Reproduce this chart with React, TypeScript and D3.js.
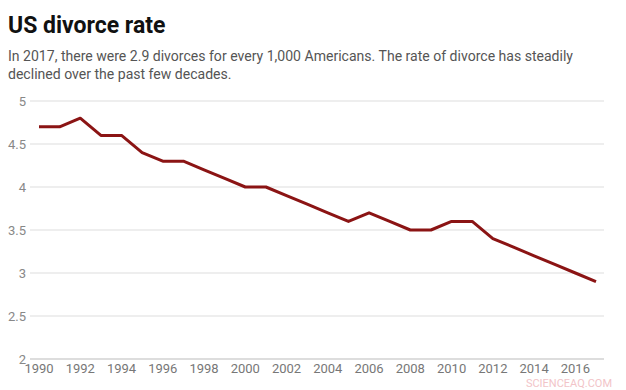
import * as d3 from "d3";

const years = [
  1990, 1991, 1992, 1993, 1994, 1995, 1996, 1997, 1998, 1999, 2000, 2001, 2002,
  2003, 2004, 2005, 2006, 2007, 2008, 2009, 2010, 2011, 2012, 2013, 2014, 2015,
  2016, 2017,
];
const rates = [
  4.7, 4.7, 4.8, 4.6, 4.6, 4.4, 4.3, 4.3, 4.2, 4.1, 4.0, 4.0, 3.9, 3.8, 3.7,
  3.6, 3.7, 3.6, 3.5, 3.5, 3.6, 3.6, 3.4, 3.3, 3.2, 3.1, 3.0, 2.9,
];
const yTicks = [2, 2.5, 3, 3.5, 4, 4.5, 5];
const xTicks = [1990, 1992, 1994, 1996, 1998, 2000, 2002, 2004, 2006, 2008, 2010, 2012, 2014, 2016];

const title = "US divorce rate";
const subtitle = [
  "In 2017, there were 2.9 divorces for every 1,000 Americans. The rate of divorce has steadily",
  "declined over the past few decades.",
];

export default function App() {
  const width = 626;
  const height = 390;
  const margin = { top: 101, right: 22, bottom: 31, left: 30 };
  const boundsWidth = width - margin.left - margin.right;
  const boundsHeight = height - margin.top - margin.bottom;

  const xScale = d3.scaleLinear().domain([1990, 2017]).range([9, 566]);
  const yScale = d3.scaleLinear().domain([2, 5]).range([boundsHeight, 0]);

  const data = years.map((y, i) => ({ year: y, rate: rates[i] }));
  const line = d3
    .line<{ year: number; rate: number }>()
    .x((d) => xScale(d.year))
    .y((d) => yScale(d.rate));

  const font = "Roboto, 'Noto Sans', sans-serif";

  return (
    <svg
      width={width}
      height={height}
      style={{ position: "absolute", left: 0, top: 0, background: "#fff" }}
    >
      <text x={8} y={33} fontFamily={font} fontSize={23} fontWeight={700} fill="#111">
        {title}
      </text>
      {subtitle.map((s, i) => (
        <text key={i} x={8} y={61 + i * 17.5} fontFamily={font} fontSize={14.05} fill="#555">
          {s}
        </text>
      ))}
      <g transform={`translate(${margin.left},${margin.top})`}>
        {yTicks.map((t) => (
          <g key={t}>
            <line
              x1={0}
              x2={boundsWidth}
              y1={yScale(t)}
              y2={yScale(t)}
              stroke={t === 2 ? "#bbb" : "#ddd"}
              strokeWidth={1}
            />
            <text
              x={-4}
              y={yScale(t)}
              dy="0.35em"
              textAnchor="end"
              fontFamily={font}
              fontSize={13}
              fill="#888"
            >
              {t}
            </text>
          </g>
        ))}
        {xTicks.map((t) => (
          <text
            key={t}
            x={xScale(t)}
            y={boundsHeight + 14}
            textAnchor="middle"
            fontFamily={font}
            fontSize={13}
            fill="#777"
          >
            {t}
          </text>
        ))}
        <path
          d={line(data) ?? ""}
          fill="none"
          stroke="#8b1414"
          strokeWidth={3}
          strokeLinejoin="round"
        />
      </g>
      <text x={612} y={386.5} textAnchor="end" fontFamily={font} fontSize={11} fill="#f2c4c8">
        SCIENCEAQ.COM
      </text>
    </svg>
  );
}
